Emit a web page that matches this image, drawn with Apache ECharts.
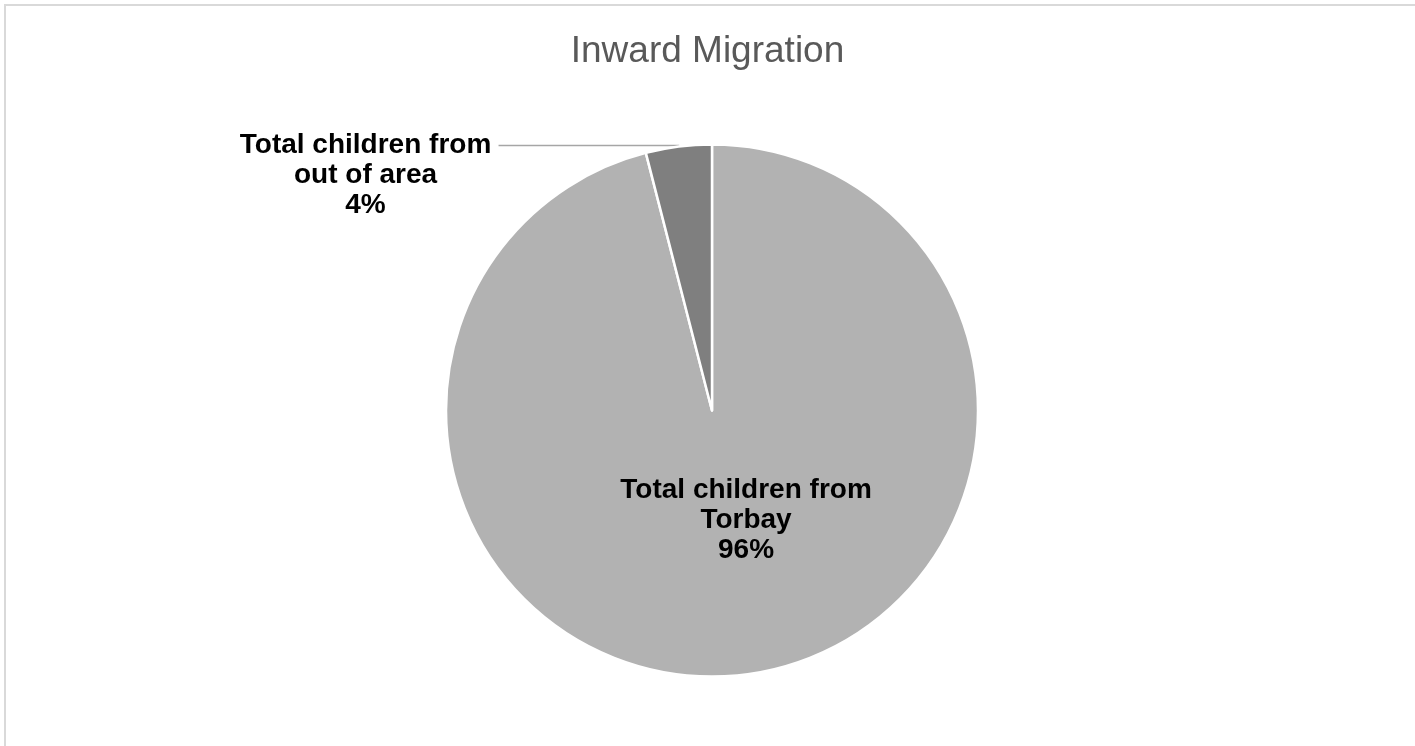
<!DOCTYPE html>
<html>
<head>
<meta charset="utf-8">
<script src="https://cdn.jsdelivr.net/npm/echarts@6/dist/echarts.min.js"></script>
<style>
html,body{margin:0;padding:0;background:#fff;}
#chart{width:1415px;height:746px;}
</style>
</head>
<body>
<div id="chart"></div>
<script>
var categories = ['Total children from Torbay', 'Total children from out of area'];
var labelLines = [['Total children from', 'Torbay'], ['Total children from', 'out of area']];
var values = [96, 4];
var colors = ['#b2b2b2', '#7f7f7f'];

var chart = echarts.init(document.getElementById('chart'), null, {renderer: 'canvas'});

var total = values.reduce(function (a, b) { return a + b; }, 0);
function pct(v) { return Math.round(v / total * 100) + '%'; }

var data = categories.map(function (c, i) {
  var item = { name: c, value: values[i], itemStyle: { color: colors[i] } };
  if (i === 0) {
    item.label = {
      position: 'inside',
      offset: [17, -25],
      formatter: function () { return labelLines[0].concat([pct(values[0])]).join('\n'); }
    };
    item.labelLine = { show: false };
  } else {
    item.label = {
      position: 'outside',
      padding: [60, 0, 0, 0],
      formatter: function () {
        return labelLines[1].concat([pct(values[1])]).map(function (s) { return '{a|' + s + '}'; }).join('\n');
      },
      rich: {
        a: { width: 256, align: 'center', fontFamily: 'Liberation Sans, Arial, sans-serif', fontSize: 28, fontWeight: 'bold', color: '#000', lineHeight: 30 }
      }
    };
    item.labelLine = { show: true, length: 1, length2: 180, lineStyle: { color: '#a6a6a6', width: 1.5 } };
  }
  return item;
});

chart.setOption({
  backgroundColor: '#ffffff',
  animation: false,
  graphic: [{
    type: 'rect',
    shape: { x: 5, y: 5, width: 1600, height: 1000 },
    style: { fill: 'none', stroke: '#d9d9d9', lineWidth: 2 },
    silent: true
  }],
  title: {
    text: 'Inward Migration',
    left: 'center',
    top: 28,
    textStyle: { fontFamily: 'Liberation Sans, Arial, sans-serif', fontSize: 37, fontWeight: 'normal', color: '#595959' }
  },
  series: [{
    type: 'pie',
    center: [712, 410.5],
    radius: 266,
    startAngle: 90,
    clockwise: true,
    avoidLabelOverlap: false,
    itemStyle: { borderColor: '#ffffff', borderWidth: 2.5 },
    label: {
      show: true,
      fontFamily: 'Liberation Sans, Arial, sans-serif',
      fontSize: 28,
      fontWeight: 'bold',
      color: '#000',
      lineHeight: 30,
      align: 'center'
    },
    emphasis: { disabled: true },
    data: data
  }]
});
</script>
</body>
</html>
